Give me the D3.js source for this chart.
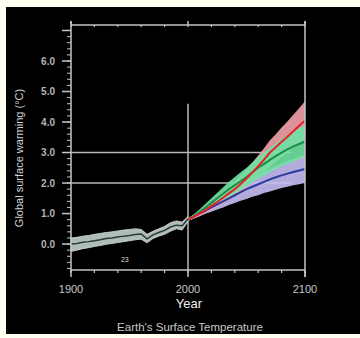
<!DOCTYPE html>
<html>
<head>
<meta charset="utf-8">
<script src="https://cdn.jsdelivr.net/npm/d3@7"></script>
<style>
  html, body { margin: 0; padding: 0; background: #fffff2; }
  svg { display: block; }
</style>
</head>
<body>
<div id="chart"></div>
<script>
// historical record, 1900-2000 every 5 years
const histYears = d3.range(1900, 2001, 5);
const histMid = [0.0, 0.02, 0.06, 0.08, 0.11, 0.14, 0.18, 0.2, 0.23, 0.26, 0.28, 0.31, 0.33, 0.17, 0.3, 0.38, 0.45, 0.56, 0.62, 0.6, 0.82];
const histHi  = [0.2, 0.22, 0.26, 0.28, 0.32, 0.35, 0.38, 0.4, 0.43, 0.46, 0.48, 0.5, 0.48, 0.32, 0.42, 0.5, 0.58, 0.7, 0.76, 0.72, 0.9];
const histLo  = [-0.24, -0.2, -0.15, -0.12, -0.08, -0.05, -0.01, 0.02, 0.05, 0.08, 0.11, 0.14, 0.16, 0.04, 0.18, 0.26, 0.32, 0.42, 0.5, 0.46, 0.74];

// projections, 2000-2100 every 5 years
const projYears = d3.range(2000, 2101, 5);
const redMid = [0.8, 0.9, 1.0, 1.12, 1.25, 1.38, 1.52, 1.66, 1.8, 1.97, 2.15, 2.35, 2.55, 2.77, 3.0, 3.17, 3.35, 3.52, 3.7, 3.88, 4.05];
const redLo  = [0.76, 0.84, 0.92, 1.02, 1.12, 1.23, 1.34, 1.46, 1.58, 1.72, 1.87, 2.02, 2.18, 2.35, 2.53, 2.68, 2.85, 3.0, 3.15, 3.3, 3.45];
const redHi  = [0.84, 0.96, 1.09, 1.24, 1.39, 1.55, 1.72, 1.89, 2.06, 2.25, 2.45, 2.67, 2.9, 3.14, 3.4, 3.6, 3.82, 4.02, 4.24, 4.45, 4.68];
const greenMid = [0.8, 0.92, 1.05, 1.2, 1.35, 1.5, 1.65, 1.8, 1.93, 2.06, 2.2, 2.35, 2.5, 2.63, 2.76, 2.88, 3.0, 3.1, 3.2, 3.28, 3.36];
const greenLo  = [0.76, 0.86, 0.97, 1.09, 1.2, 1.32, 1.44, 1.55, 1.65, 1.77, 1.9, 2.02, 2.15, 2.25, 2.35, 2.45, 2.55, 2.63, 2.7, 2.78, 2.85];
const greenHi  = [0.84, 0.98, 1.14, 1.32, 1.5, 1.68, 1.86, 2.04, 2.2, 2.35, 2.5, 2.67, 2.85, 3.0, 3.15, 3.3, 3.45, 3.57, 3.7, 3.8, 3.9];
const blueMid = [0.8, 0.9, 1.0, 1.1, 1.2, 1.3, 1.4, 1.5, 1.6, 1.7, 1.8, 1.88, 1.96, 2.04, 2.12, 2.19, 2.25, 2.31, 2.36, 2.41, 2.46];
const blueLo  = [0.76, 0.84, 0.91, 0.99, 1.06, 1.13, 1.2, 1.28, 1.35, 1.42, 1.48, 1.55, 1.6, 1.67, 1.72, 1.78, 1.84, 1.88, 1.93, 1.96, 2.0];
const blueHi  = [0.84, 0.96, 1.08, 1.2, 1.33, 1.46, 1.58, 1.7, 1.83, 1.95, 2.07, 2.17, 2.28, 2.38, 2.47, 2.56, 2.64, 2.72, 2.79, 2.86, 2.93];

const yMajorTicks = [0, 1, 2, 3, 4, 5, 6, 7];
const yTickLabels = ["0.0", "1.0", "2.0", "3.0", "4.0", "5.0", "6.0"];
const xMajorTicks = [1900, 2000, 2100];
const refLines = [2, 3];

const W = 360, H = 338;
const margin = {top: 25, left: 71, right: 55, bottom: 68};
const width = W - margin.left - margin.right;
const height = H - margin.top - margin.bottom;
const axisColor = "#c4c4c4";

const svg = d3.select("#chart").append("svg")
  .attr("width", W).attr("height", H)
  .style("font-family", "Liberation Sans, Arial, sans-serif");

svg.append("rect").attr("x", 6).attr("y", 7).attr("width", W - 6).attr("height", 327).attr("fill", "#000");

const g = svg.append("g").attr("transform", `translate(${margin.left},${margin.top})`);

const x = d3.scaleLinear().domain([1900, 2100]).range([0, width]);
const y = d3.scaleLinear().domain([-0.85, 7.18]).range([height, 0]);

// reference lines
refLines.forEach(v => {
  g.append("line").attr("x1", x(1900)).attr("x2", x(2088))
    .attr("y1", y(v)).attr("y2", y(v))
    .attr("stroke", "#b8b8b8").attr("stroke-width", 1.5);
});
g.append("line").attr("x1", x(2000)).attr("x2", x(2000))
  .attr("y1", y(4.6)).attr("y2", height)
  .attr("stroke", "#b8b8b8").attr("stroke-width", 1.5);

const area = (years, lo, hi) => d3.area()
  .x((d, i) => x(years[i])).y0((d, i) => y(lo[i])).y1((d, i) => y(hi[i]))(years);
const line = (years, vals) => d3.line()
  .x((d, i) => x(years[i])).y((d, i) => y(vals[i]))(years);

// historical band
g.append("path").attr("d", area(histYears, histLo, histHi))
  .attr("fill", "#aebdb5").attr("stroke", "#d4dcd8").attr("stroke-width", 0.8);
g.append("path").attr("d", line(histYears, histMid))
  .attr("fill", "none").attr("stroke", "#2c3a34").attr("stroke-width", 1.5);

// projection bands: blue, red, then green on top
const blue = {lo: blueLo, hi: blueHi, mid: blueMid, band: "#c6bef4", col: "#2a3a9c"};
const green = {lo: greenLo, hi: greenHi, mid: greenMid, band: "#70e2a4", col: "#159040"};
const red = {lo: redLo, hi: redHi, mid: redMid, band: "#f4a2aa", col: "#e8202c"};
[blue, red, green].forEach(s => {
  g.append("path").attr("d", area(projYears, s.lo, s.hi))
    .attr("fill", s.band).attr("fill-opacity", 0.9);
});
[blue, green, red].forEach(s => {
  g.append("path").attr("d", line(projYears, s.mid))
    .attr("fill", "none").attr("stroke", s.col).attr("stroke-width", 2);
});

// axes frame
const frame = g.append("g").attr("stroke", axisColor).attr("stroke-width", 1.5);
frame.append("line").attr("x1", 0).attr("x2", width).attr("y1", 0).attr("y2", 0);
frame.append("line").attr("x1", 0).attr("x2", width).attr("y1", height).attr("y2", height);
frame.append("line").attr("x1", 0).attr("x2", 0).attr("y1", -4).attr("y2", height + 2);
frame.append("line").attr("x1", width).attr("x2", width).attr("y1", -4).attr("y2", height + 7);

// x ticks, top and bottom
d3.range(1900, 2101, 20).forEach(t => {
  frame.append("line").attr("x1", x(t)).attr("x2", x(t)).attr("y1", 0).attr("y2", 2).attr("stroke-width", 1.2);
  frame.append("line").attr("x1", x(t)).attr("x2", x(t)).attr("y1", height).attr("y2", height + 3).attr("stroke-width", 1.2);
});
xMajorTicks.forEach(t => {
  frame.append("line").attr("x1", x(t)).attr("x2", x(t)).attr("y1", -4).attr("y2", 0);
  frame.append("line").attr("x1", x(t)).attr("x2", x(t)).attr("y1", height).attr("y2", height + 7);
});

// y ticks
d3.range(-0.8, 7.01, 0.2).forEach(t => {
  frame.append("line").attr("x1", -4).attr("x2", 0).attr("y1", y(t)).attr("y2", y(t)).attr("stroke-width", 1);
});
yMajorTicks.forEach(t => {
  frame.append("line").attr("x1", -9).attr("x2", 0).attr("y1", y(t)).attr("y2", y(t));
});

// labels
g.selectAll(".ylab").data(yTickLabels).join("text")
  .attr("x", -16).attr("y", (d, i) => y(yMajorTicks[i]))
  .attr("dy", "0.35em").attr("text-anchor", "end")
  .attr("font-size", 10).attr("font-weight", "bold").attr("fill", "#b4b4b4")
  .text(d => d);

g.selectAll(".xlab").data(xMajorTicks).join("text")
  .attr("x", d => x(d)).attr("y", height + 23)
  .attr("text-anchor", "middle").attr("font-size", 11).attr("fill", "#c8c8c8")
  .text(d => d);

g.append("text").attr("x", x(1946)).attr("y", y(-0.5)).attr("dy", "0.35em")
  .attr("text-anchor", "middle").attr("font-size", 7).attr("fill", "#d8d8d8").text("23");

svg.append("text").attr("x", 189).attr("y", 308).attr("text-anchor", "middle")
  .attr("font-size", 13).attr("fill", "#f0f0f0").text("Year");

svg.append("text").attr("x", 190).attr("y", 331).attr("text-anchor", "middle")
  .attr("font-size", 11.5).attr("fill", "#c8c8c8").text("Earth's Surface Temperature");

svg.append("text").attr("transform", "translate(23,158) rotate(-90)")
  .attr("text-anchor", "middle").attr("font-size", 11).attr("fill", "#d4d4d4")
  .text("Global surface warming (°C)");
</script>
</body>
</html>
